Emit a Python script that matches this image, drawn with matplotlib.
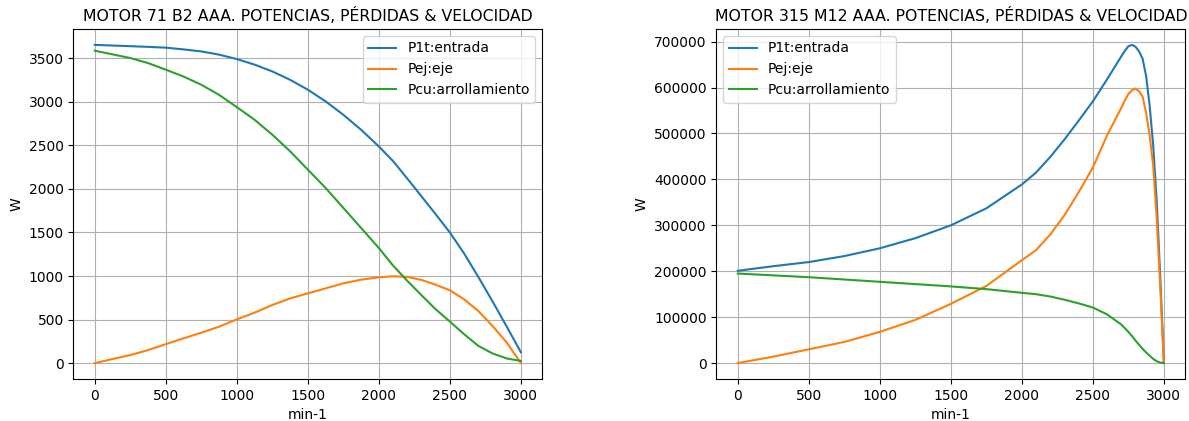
import numpy as np
import matplotlib
matplotlib.use("Agg")
import matplotlib.pyplot as plt

# Motor 71 B2: speed (min-1) and powers (W)
n_71 = [0, 250, 375, 500, 625, 750, 875, 1000, 1125, 1250, 1375, 1500, 1625,
        1750, 1875, 2000, 2100, 2200, 2300, 2400, 2500, 2600, 2700, 2800,
        2900, 3000]
p1t_71 = [3655, 3640, 3632, 3623, 3603, 3580, 3543, 3492, 3428, 3350, 3254,
          3140, 3006, 2852, 2680, 2488, 2320, 2120, 1915, 1710, 1500, 1260,
          990, 710, 420, 125]
pej_71 = [0, 92, 149, 218, 284, 349, 418, 502, 579, 667, 743, 801, 858, 916,
          958, 985, 997, 990, 955, 900, 836, 733, 599, 427, 237, 0]
pcu_71 = [3588, 3504, 3446, 3370, 3291, 3197, 3081, 2940, 2795, 2623, 2433,
          2222, 2012, 1782, 1552, 1322, 1120, 945, 780, 618, 477, 332, 198,
          111, 53, 25]

# Motor 315 M12: speed (min-1) and powers (kW, scaled to W below)
n_315 = [0, 250, 500, 750, 1000, 1250, 1500, 1750, 2000, 2100, 2200, 2300,
         2400, 2500, 2600, 2700, 2725, 2750, 2775, 2800, 2825, 2850, 2875,
         2900, 2925, 2950, 2975, 3000]
p1t_315 = [201, 211, 220, 233, 250, 272, 300, 337, 389, 415, 449, 487, 528,
           570, 618, 668, 680, 690, 693, 689, 679, 663, 625, 560, 473, 350,
           183, 0]
pej_315 = [0, 14, 30, 46, 68, 94, 129, 168, 224, 246, 280, 322, 372, 426,
           496, 556, 572, 586, 594, 598, 592, 580, 545, 495, 429, 313, 161, 0]
pcu_315 = [195, 191, 187, 182, 177, 172, 167, 161, 153, 150, 145, 138, 130,
           121, 106, 84, 76, 68, 59, 49, 40, 31, 23, 16, 9, 4, 1, 0]

labels = ["P1t:entrada", "Pej:eje", "Pcu:arrollamiento"]

fig = plt.figure(figsize=(11.89, 4.21), dpi=100)
ax1 = fig.add_axes([0.0618, 0.0998, 0.3942, 0.8314])
ax2 = fig.add_axes([0.6026, 0.0998, 0.3942, 0.8314])

for serie, lab in zip([p1t_71, pej_71, pcu_71], labels):
    ax1.plot(n_71, serie, label=lab)
ax1.set_title("MOTOR 71 B2 AAA. POTENCIAS, PÉRDIDAS & VELOCIDAD", fontsize=11.3)
ax1.set_xlabel("min-1")
ax1.set_ylabel("W")
ax1.grid(True)
ax1.legend(loc="upper right")

for serie, lab in zip([p1t_315, pej_315, pcu_315], labels):
    ax2.plot(n_315, np.array(serie) * 1000, label=lab)
ax2.set_title("MOTOR 315 M12 AAA. POTENCIAS, PÉRDIDAS & VELOCIDAD", fontsize=11.3)
ax2.set_xlabel("min-1")
ax2.set_ylabel("W")
ax2.grid(True)
ax2.legend(loc="upper left")

fig.savefig("out.png", dpi=100)
